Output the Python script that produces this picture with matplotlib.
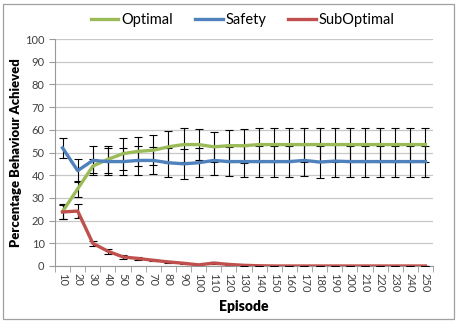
import numpy as np
import matplotlib
matplotlib.use("Agg")
import matplotlib.pyplot as plt
from matplotlib.patches import Rectangle

# data
episodes = [10, 20, 30, 40, 50, 60, 70, 80, 90, 100, 110, 120, 130,
            140, 150, 160, 170, 180, 190, 200, 210, 220, 230, 240, 250]
optimal = [24, 34, 44, 47, 49.5, 50.5, 51, 52.5, 53.5, 53.5, 52.5, 53, 53,
           53.5, 53.5, 53.5, 53.5, 53.5, 53.5, 53.5, 53.5, 53.5, 53.5, 53.5, 53.5]
optimal_err = [3.5, 3.5, 3, 6, 7, 6.5, 6.5, 7, 7.5, 7, 6.5, 7, 7.5,
               7.5, 7.5, 7.5, 7.5, 7.5, 7.5, 7.5, 7.5, 7.5, 7.5, 7.5, 7.5]
safety = [52, 42, 46.5, 46, 46, 46.5, 46.5, 45.5, 45, 45.5, 46.5, 46, 46,
          46, 46, 46, 46.5, 45.8, 46.2, 46, 46, 46, 46, 46, 46]
safety_err = [4.4, 5, 6.5, 6, 6, 6.5, 6, 6.5, 6.5, 6.5, 6.5, 6.5, 7,
              7, 7, 7, 7, 7, 7, 7, 7, 7, 7, 7, 7]
suboptimal = [23.8, 24.2, 10, 6.5, 4, 3.3, 2.5, 1.8, 1.2, 0.5, 1.3, 0.7, 0.3,
              0.1, 0, 0, 0, 0, 0, 0, 0, 0, 0, 0, 0]
suboptimal_err = [3, 3, 1.2, 1, 0.8, 0.8, 0.5, 0.5, 0.3, 0.2, 0.3, 0.2, 0.1,
                  0, 0, 0, 0, 0, 0, 0, 0, 0, 0, 0, 0]

plt.rcParams['font.family'] = ['Lato', 'DejaVu Sans']

fig = plt.figure(figsize=(4.58, 3.22), dpi=100)
ax = fig.add_axes([55 / 458, 56 / 322, 378 / 458, 227 / 322])

x = np.arange(len(episodes))
series = [
    (optimal, optimal_err, '#9BBB59', 'Optimal'),
    (safety, safety_err, '#4F81BD', 'Safety'),
    (suboptimal, suboptimal_err, '#C0504D', 'SubOptimal'),
]
for vals, errs, col, name in series:
    ax.errorbar(x, vals, yerr=errs, color=col, lw=2.4, label=name,
                ecolor='black', elinewidth=0.8, capsize=3, capthick=0.8,
                zorder=3)

ax.set_xlim(-0.5, len(episodes) - 0.5)
ax.set_ylim(0, 100)
ax.set_yticks(range(0, 101, 10))
ax.set_xticks(x)
ax.set_xticklabels([str(e) for e in episodes], rotation=270)
ax.set_xticks(np.arange(-0.5, len(episodes), 1), minor=True)
ax.tick_params(axis='x', which='major', length=0, labelsize=8,
               labelcolor='#404040', pad=5)
ax.tick_params(axis='x', which='minor', length=4, color='#999999',
               direction='out')
ax.tick_params(axis='y', length=4, color='#999999', labelsize=8,
               labelcolor='#404040', direction='out')
ax.grid(axis='y', color='#C8C8C8', lw=0.9)
ax.set_axisbelow(True)
for s in ['top', 'right']:
    ax.spines[s].set_visible(False)
ax.spines['left'].set_color('#999999')
ax.spines['bottom'].set_color('#999999')

ax.set_ylabel('Percentage Behaviour Achieved', fontsize=9.4, fontweight='heavy',
              labelpad=2)
ax.set_xlabel('Episode', fontsize=10, fontweight='heavy', labelpad=5)

handles, labels = ax.get_legend_handles_labels()
handles = [h[0] for h in handles]
fig.legend(handles, labels, loc='center', bbox_to_anchor=(0.53, 1 - 20 / 322),
           ncol=3, frameon=False, fontsize=10.5, handlelength=1.9,
           handletextpad=0.2, columnspacing=1.5)

fig.patches.append(Rectangle((3 / 458, 3 / 322), 451 / 458, 315 / 322,
                             transform=fig.transFigure, fill=False,
                             edgecolor='#A0A0A0', lw=0.9))

fig.savefig('out.png', dpi=100)
